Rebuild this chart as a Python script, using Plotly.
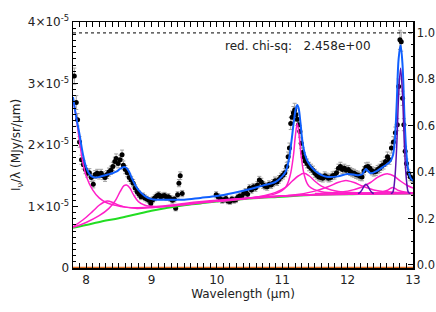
import plotly.graph_objects as go

# ---------------- data (intensity in units of 1e-5 MJy/sr/um) ----------------
wave = [7.82, 7.85, 7.87, 7.90, 7.93, 7.96, 7.99, 8.02, 8.05, 8.08, 8.11, 8.14, 8.17, 8.20,
        8.23, 8.26, 8.29, 8.32, 8.35, 8.38, 8.41, 8.44, 8.46, 8.49, 8.52, 8.55, 8.57, 8.60,
        8.63, 8.66, 8.69, 8.72, 8.75, 8.78, 8.81, 8.84, 8.87, 8.90, 8.93, 8.96, 8.99, 9.02,
        9.05, 9.08, 9.11, 9.14, 9.17, 9.20, 9.23, 9.26, 9.29, 9.32, 9.35, 9.37, 9.40, 9.42,
        9.44, 9.47,
        9.99, 10.02, 10.05, 10.08, 10.11, 10.14, 10.17, 10.20, 10.23, 10.26, 10.29, 10.32,
        10.35, 10.38, 10.41, 10.44, 10.47, 10.50, 10.53, 10.56, 10.59, 10.62, 10.65, 10.68,
        10.71, 10.74, 10.77, 10.80, 10.83, 10.86, 10.89, 10.92, 10.95, 10.98, 11.01, 11.04,
        11.07, 11.09, 11.11, 11.13, 11.15, 11.17, 11.19, 11.21, 11.23, 11.25, 11.27, 11.29,
        11.31, 11.33, 11.35, 11.38, 11.41, 11.44, 11.47, 11.50, 11.53, 11.56, 11.59, 11.62,
        11.65, 11.68, 11.71, 11.74, 11.77, 11.80, 11.83, 11.86, 11.89, 11.92, 11.95, 11.98,
        12.01, 12.04, 12.07, 12.10, 12.13, 12.16, 12.19, 12.22, 12.25, 12.28, 12.31, 12.34,
        12.37, 12.40, 12.43, 12.46, 12.49, 12.52, 12.55, 12.58, 12.61, 12.64, 12.67, 12.70,
        12.73, 12.76, 12.78, 12.80, 12.82, 12.84, 12.86, 12.88, 12.90, 12.93, 12.96, 12.99]
flux = [3.12, 2.69, 2.41, 2.05, 1.76, 1.68, 1.60, 1.54, 1.55, 1.47, 1.36, 1.52, 1.54, 1.51,
        1.54, 1.50, 1.47, 1.52, 1.56, 1.59, 1.65, 1.73, 1.78, 1.70, 1.76, 1.84, 1.67, 1.60,
        1.55, 1.47, 1.43, 1.38, 1.30, 1.24, 1.20, 1.16, 1.17, 1.14, 1.12, 1.10, 1.05, 1.11,
        1.14, 1.17, 1.19, 1.16, 1.17, 1.18, 1.15, 1.16, 1.13, 1.10, 1.12, 0.97, 1.19, 1.38,
        1.50, 1.21,
        1.19, 1.16, 1.13, 1.10, 1.11, 1.13, 1.09, 1.08, 1.12, 1.10, 1.11, 1.15,
        1.17, 1.16, 1.21, 1.24, 1.20, 1.30, 1.27, 1.32, 1.30, 1.35, 1.43, 1.40,
        1.35, 1.33, 1.32, 1.36, 1.35, 1.38, 1.42, 1.40, 1.44, 1.48, 1.51, 1.55,
        1.65, 1.81, 1.95, 2.35, 2.45, 2.52, 2.57, 2.49, 2.42, 2.33, 2.22, 2.03,
        1.88, 1.80, 1.74, 1.70, 1.65, 1.62, 1.59, 1.54, 1.51, 1.48, 1.47, 1.46,
        1.50, 1.48, 1.46, 1.47, 1.50, 1.51, 1.55, 1.62, 1.65, 1.60, 1.62, 1.59,
        1.60, 1.57, 1.55, 1.54, 1.52, 1.51, 1.49, 1.48, 1.58, 1.64, 1.65, 1.62,
        1.58, 1.56, 1.57, 1.60, 1.62, 1.66, 1.68, 1.73, 1.81, 1.76, 1.95, 2.05,
        2.20, 2.33, 2.95, 3.71, 3.68, 2.76, 2.33, 1.90, 1.70, 1.54, 1.48, 1.45]

# continuum (green)
cont_x = [7.8, 8.0, 8.25, 8.5, 8.75, 9.0, 9.25, 9.5, 9.75, 10.0, 10.5, 11.0, 11.5, 12.0, 12.5, 13.0]
cont_y = [0.655, 0.70, 0.76, 0.81, 0.87, 0.93, 0.98, 1.02, 1.05, 1.08, 1.13, 1.16, 1.19, 1.20, 1.21, 1.21]

# dust features (magenta): continuum + feature
f77_x = [7.8, 7.85, 7.9, 7.95, 8.0, 8.1, 8.2, 8.3, 8.45, 8.6, 8.8, 9.0, 9.5, 10.0, 11.0, 12.0, 13.0]
f77_y = [2.75, 2.45, 2.05, 1.72, 1.50, 1.27, 1.14, 1.07, 1.02, 0.99, 0.98, 0.99, 1.05, 1.10, 1.17, 1.21, 1.22]
f833_x = [7.8, 7.95, 8.1, 8.2, 8.27, 8.33, 8.4, 8.5, 8.6, 8.75, 9.0, 9.5, 10.0, 11.0, 13.0]
f833_y = [0.67, 0.78, 0.92, 1.02, 1.07, 1.09, 1.07, 1.02, 0.99, 0.97, 0.98, 1.03, 1.09, 1.17, 1.21]
f861_x = [7.8, 8.0, 8.2, 8.35, 8.45, 8.52, 8.58, 8.62, 8.67, 8.72, 8.8, 8.9, 9.05, 9.3, 9.6, 10.0, 11.0, 13.0]
f861_y = [0.66, 0.74, 0.85, 0.97, 1.10, 1.24, 1.34, 1.35, 1.30, 1.20, 1.08, 1.02, 1.00, 1.01, 1.04, 1.09, 1.17, 1.21]
f1123_x = [9.8, 10.5, 10.9, 11.05, 11.12, 11.17, 11.20, 11.23, 11.26, 11.29, 11.34, 11.41, 11.6, 12.0, 13.0]
f1123_y = [1.07, 1.14, 1.21, 1.31, 1.50, 1.82, 2.14, 2.35, 2.14, 1.82, 1.50, 1.33, 1.24, 1.22, 1.22]
f1133_x = [10.0, 10.6, 10.9, 11.05, 11.15, 11.25, 11.33, 11.41, 11.5, 11.6, 11.75, 12.0, 12.5, 13.0]
f1133_y = [1.08, 1.15, 1.23, 1.31, 1.41, 1.50, 1.54, 1.50, 1.41, 1.33, 1.27, 1.23, 1.22, 1.22]
f1199_x = [10.5, 11.2, 11.5, 11.7, 11.85, 11.95, 12.0, 12.1, 12.25, 12.4, 12.6, 13.0]
f1199_y = [1.13, 1.19, 1.25, 1.32, 1.39, 1.42, 1.42, 1.39, 1.32, 1.27, 1.24, 1.22]
f1262_x = [11.5, 12.0, 12.2, 12.35, 12.45, 12.55, 12.62, 12.7, 12.8, 12.9, 13.0]
f1262_y = [1.21, 1.25, 1.31, 1.39, 1.47, 1.52, 1.53, 1.50, 1.42, 1.35, 1.30]
f1269_x = [12.3, 12.5, 12.6, 12.65, 12.69, 12.73, 12.78, 12.9, 13.0]
f1269_y = [1.21, 1.23, 1.26, 1.29, 1.31, 1.29, 1.26, 1.23, 1.22]

# gas lines (purple): continuum + line
h2_x = [12.16, 12.19, 12.22, 12.25, 12.28, 12.31, 12.34, 12.37, 12.40]
h2_y = [1.21, 1.23, 1.27, 1.33, 1.36, 1.33, 1.27, 1.23, 1.21]
ne2_x = [12.66, 12.69, 12.72, 12.75, 12.78, 12.81, 12.84, 12.87, 12.90, 12.93, 12.96]
ne2_y = [1.21, 1.23, 1.43, 1.96, 2.80, 3.25, 2.80, 1.96, 1.43, 1.23, 1.21]

# total model (blue)
tot_x = [7.8, 7.85, 7.9, 7.95, 8.0, 8.05, 8.1, 8.15, 8.2, 8.26, 8.33, 8.4, 8.47, 8.53, 8.6,
         8.65, 8.7, 8.75, 8.8, 8.9, 9.0, 9.1, 9.3, 9.5, 9.75, 10.0, 10.25, 10.5, 10.7, 10.9,
         11.0, 11.05, 11.1, 11.14, 11.18, 11.21, 11.23, 11.25, 11.28, 11.31, 11.35, 11.4,
         11.5, 11.6, 11.7, 11.85, 12.0, 12.15, 12.22, 12.25, 12.28, 12.31, 12.35, 12.45,
         12.55, 12.65, 12.69, 12.72, 12.75, 12.78, 12.81, 12.84, 12.87, 12.90, 12.93, 12.97, 13.0]
tot_y = [2.78, 2.45, 2.17, 1.86, 1.64, 1.53, 1.48, 1.47, 1.48, 1.50, 1.52, 1.54, 1.57, 1.62, 1.64,
         1.58, 1.46, 1.35, 1.27, 1.17, 1.12, 1.11, 1.11, 1.11, 1.14, 1.17, 1.22, 1.28, 1.34, 1.40,
         1.49, 1.56, 1.75, 2.05, 2.40, 2.60, 2.65, 2.60, 2.35, 2.05, 1.84, 1.71,
         1.58, 1.51, 1.48, 1.49, 1.53, 1.51, 1.52, 1.57, 1.61, 1.58, 1.54, 1.58,
         1.65, 1.73, 1.82, 2.05, 2.65, 3.40, 3.62, 3.30, 2.45, 1.85, 1.58, 1.45, 1.42]

# extinction (dotted, right axis) and bottom orange curve
ext_x = [7.8, 13.0]
ext_y = [1.0, 1.0]
bot_x = [7.8, 13.0]
bot_y = [0.0, 0.0]

chi_text = "red. chi-sq:   2.458e+00"

FONT = "DejaVu Sans"
MAG = "#ff1fc8"

fig = go.Figure()
fig.add_trace(go.Scatter(
    x=wave, y=flux, mode="markers",
    marker=dict(color="black", size=5),
    error_y=dict(type="percent", value=4.2, color="#a0a0a0", thickness=1, width=2),
    showlegend=False))
fig.add_trace(go.Scatter(x=cont_x, y=cont_y, mode="lines", line=dict(color="#22dd22", width=2, shape="spline"), showlegend=False))
for fx, fy in [(f77_x, f77_y), (f833_x, f833_y), (f861_x, f861_y), (f1123_x, f1123_y),
               (f1133_x, f1133_y), (f1199_x, f1199_y), (f1262_x, f1262_y), (f1269_x, f1269_y)]:
    fig.add_trace(go.Scatter(x=fx, y=fy, mode="lines", line=dict(color=MAG, width=1.5, shape="spline"), showlegend=False))
fig.add_trace(go.Scatter(x=tot_x, y=tot_y, mode="lines", line=dict(color="#1060ff", width=2, shape="spline"), showlegend=False))
for lx, ly in [(h2_x, h2_y), (ne2_x, ne2_y)]:
    fig.add_trace(go.Scatter(x=lx, y=ly, mode="lines", line=dict(color="#5a10b0", width=1.5, shape="spline"), showlegend=False))
fig.add_trace(go.Scatter(x=ext_x, y=ext_y, yaxis="y2", mode="lines", line=dict(color="black", width=1, dash="dot"), showlegend=False))
fig.add_trace(go.Scatter(x=bot_x, y=bot_y, mode="lines", line=dict(color="#dd6a1e", width=2.5), showlegend=False, cliponaxis=False))

axis_font = dict(family=FONT, size=12, color="#222")
fig.update_layout(
    width=436, height=312,
    margin=dict(l=73, r=23, t=22, b=44, autoexpand=False),
    paper_bgcolor="white", plot_bgcolor="white",
    font=axis_font,
    hovermode=False,
    xaxis=dict(range=[7.8, 13.0], tickvals=[8, 9, 10, 11, 12, 13], ticks="inside", ticklen=5,
               tickwidth=1, tickcolor="black", showline=True, linecolor="black", linewidth=1.5,
               mirror="allticks", showgrid=False, zeroline=False, automargin=False,
               minor=dict(ticks="inside", ticklen=2.5, dtick=0.1, tickcolor="black", showgrid=False),
               title=dict(text="Wavelength (μm)", standoff=2, font=axis_font)),
    yaxis=dict(range=[0, 4], tickvals=[0, 1, 2, 3, 4],
               ticktext=["0", "1×10<sup>-5</sup>", "2×10<sup>-5</sup>", "3×10<sup>-5</sup>", "4×10<sup>-5</sup>"],
               ticks="inside", ticklen=5, tickcolor="black", showline=True, linecolor="black",
               linewidth=1.5, showgrid=False, zeroline=False, automargin=False,
               minor=dict(ticks="inside", ticklen=2.5, dtick=0.1, tickcolor="black", showgrid=False),
               title=dict(text="I<sub>ν</sub>/λ (MJy/sr/μm)", standoff=4, font=axis_font)),
    yaxis2=dict(range=[-0.013, 1.047], overlaying="y", side="right", tickvals=[0, 0.2, 0.4, 0.6, 0.8, 1.0],
                tickformat=".1f", ticks="inside", ticklen=5, tickcolor="black", showline=True,
                linecolor="black", linewidth=1.5, showgrid=False, zeroline=False, automargin=False,
                tickfont=dict(family=FONT, size=11.5, color="#222"),
                minor=dict(ticks="inside", ticklen=2.5, dtick=0.05, tickcolor="black", showgrid=False)),
    annotations=[dict(text=chi_text, xref="x", yref="paper", x=10.1, y=0.902, xanchor="left",
                      yanchor="middle", showarrow=False, font=axis_font)],
)
# remove the default page margin so the figure sits at the window's top-left corner
fig.write_html("out.html", config={"displayModeBar": False, "staticPlot": True},
               post_script="document.body.style.margin='0px'; document.body.style.overflow='hidden';")
